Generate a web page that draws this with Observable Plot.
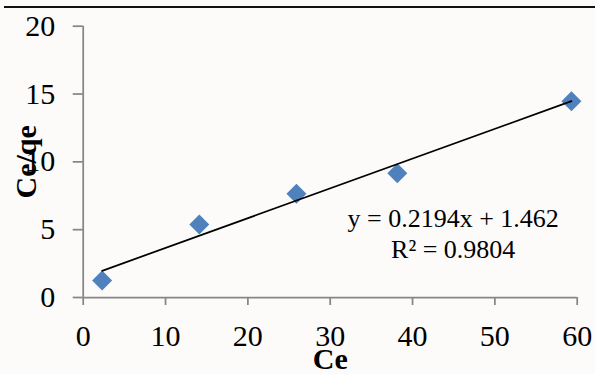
<!DOCTYPE html>
<html><head><meta charset="utf-8">
<script src="https://cdn.jsdelivr.net/npm/d3@7"></script>
<script src="https://cdn.jsdelivr.net/npm/@observablehq/plot@0.6"></script>
<style>
html,body{margin:0;padding:0;background:#fcfbf9;}
#wrap{position:relative;width:595px;height:374px;overflow:hidden;}
#topline{position:absolute;left:4px;right:0;top:6px;height:1.5px;background:#111;}
</style></head><body>
<div id="wrap"><div id="topline"></div><div id="chart"></div></div>
<script>
const ce = [2.3, 14.1, 25.9, 38.15, 59.3];
const ceqe = [1.25, 5.38, 7.64, 9.16, 14.47];
const slope = 0.2194;
const intercept = 1.462;
const eqText = "y = 0.2194x + 1.462";
const r2Text = "R² = 0.9804";
const xTicks = [0, 10, 20, 30, 40, 50, 60];
const yTicks = [0, 5, 10, 15, 20];
const xTitle = "Ce";
const yTitle = "Ce/qe";

const points = ce.map((x, i) => ({x, y: ceqe[i]}));
const fit = d3.extent(ce).map(x => ({x, y: slope * x + intercept}));
const axisGray = "#868686";

const chart = Plot.plot({
  width: 595, height: 374,
  marginLeft: 82.7, marginRight: 18.3, marginTop: 25.7, marginBottom: 77,
  style: {fontFamily: "'Liberation Serif','Times New Roman',serif", fontSize: "30px", color: "#000", background: "transparent", overflow: "visible"},
  x: {domain: [d3.min(xTicks), d3.max(xTicks)], axis: null},
  y: {domain: [d3.min(yTicks), d3.max(yTicks)], axis: null},
  marks: [
    Plot.ruleY([d3.min(yTicks)], {x1: d3.min(xTicks), x2: d3.max(xTicks), stroke: axisGray, strokeWidth: 1.75}),
    Plot.ruleX([d3.min(xTicks)], {y1: d3.min(yTicks), y2: d3.max(yTicks), stroke: axisGray, strokeWidth: 1.75}),
    Plot.axisX(xTicks, {tickSize: 8, tickPadding: 19, stroke: axisGray, strokeWidth: 1.75, fill: "#000", label: null, fontSize: 30}),
    Plot.axisY(yTicks, {tickSize: 10, tickPadding: 18, stroke: axisGray, strokeWidth: 1.75, fill: "#000", label: null, fontSize: 30}),
    Plot.dot(points, {x: "x", y: "y", symbol: "diamond2", r: 9, fill: "#4F81BD"}),
    Plot.line(fit, {x: "x", y: "y", stroke: "#000", strokeWidth: 1.75}),
    Plot.text([xTitle], {text: d => d, frameAnchor: "bottom", dy: 71, lineAnchor: "bottom", textAnchor: "middle", fontWeight: "bold", fontSize: 30}),
    Plot.text([yTitle], {text: d => d, frameAnchor: "left", rotate: -90, dx: -46.7, lineAnchor: "bottom", textAnchor: "middle", fontWeight: "bold", fontSize: 30}),
    Plot.text([eqText], {text: d => d, frameAnchor: "right", dx: -124, dy: 65.3, lineAnchor: "bottom", textAnchor: "middle", fontSize: 26}),
    Plot.text([r2Text], {text: d => d, frameAnchor: "right", dx: -124, dy: 96, lineAnchor: "bottom", textAnchor: "middle", fontSize: 26})
  ]
});
document.getElementById("chart").appendChild(chart);
</script>
</body></html>
